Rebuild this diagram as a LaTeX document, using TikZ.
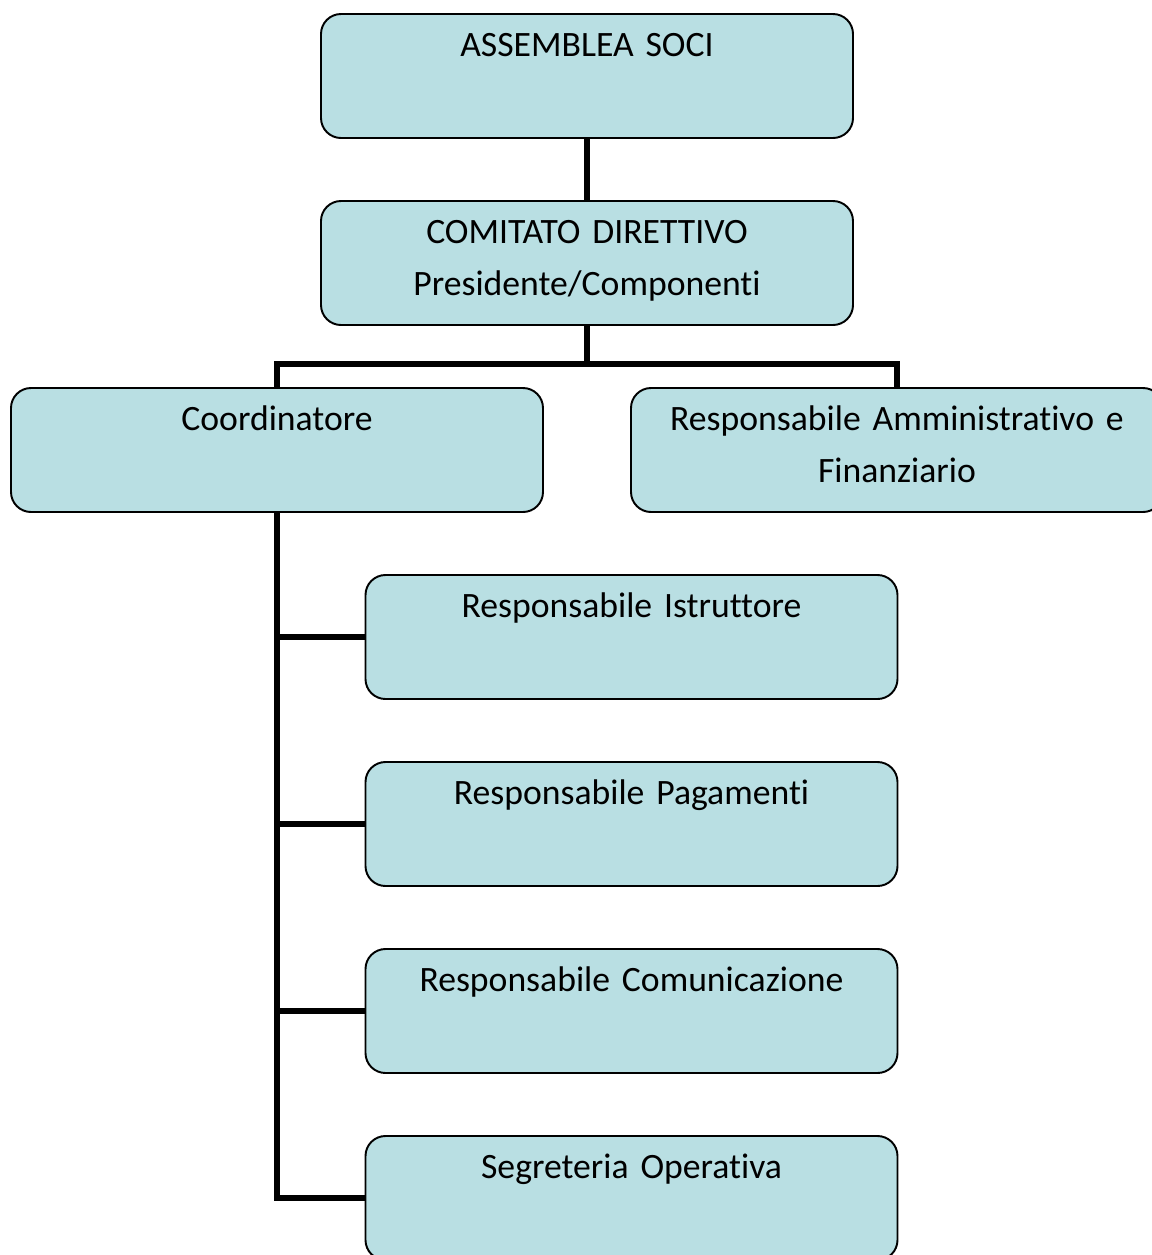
\documentclass[tikz,border=0pt]{standalone}
\usepackage{fontspec}
\setmainfont{Carlito}[Ligatures=NoCommon]
\usetikzlibrary{positioning}
\definecolor{boxfill}{RGB}{185,223,227}
\tikzset{ruolo/.style={draw, line width=1.1pt, fill=boxfill, rounded corners=0.4cm,
    minimum width=10.64cm, minimum height=2.48cm, text width=10.2cm,
    inner xsep=0.22cm, inner ysep=0pt, align=center,
    text height=0.84cm, text depth=1.64cm,
    font=\fontsize{20.3}{29.6}\selectfont},
  linea/.style={line width=3.5pt}}

\begin{document}
\begin{tikzpicture}[node distance=3.74cm, on grid]
  \useasboundingbox (0,0) rectangle (23.02,-25.1);

  \node[ruolo] (assemblea) at (11.74,-1.52) {ASSEMBLEA SOCI};
  \node[ruolo] (comitato) [below=of assemblea] {COMITATO DIRETTIVO\\Presidente/Componenti};
  \node[ruolo] (coord) [below left=3.74cm and 6.2cm of comitato] {Coordinatore};
  \node[ruolo] (amm) [below right=3.74cm and 6.2cm of comitato] {Responsabile Amministrativo e\\Finanziario};

  \node[ruolo] (istr) [below right=3.74cm and 7.09cm of coord] {Responsabile Istruttore};
  \node[ruolo] (pag) [below=of istr] {Responsabile Pagamenti};
  \node[ruolo] (com) [below=of pag] {Responsabile Comunicazione};
  \node[ruolo] (segr) [below=of com] {Segreteria Operativa};

  \draw[linea] (assemblea) -- (comitato);
  \draw[linea] (comitato.south) -- ++(0,-0.76) coordinate (snodo) -| (coord.north);
  \draw[linea] (snodo) -| (amm.north);
  \foreach \n in {istr,pag,com,segr}
    \draw[linea] (coord.south) |- (\n.west);

\end{tikzpicture}
\end{document}
